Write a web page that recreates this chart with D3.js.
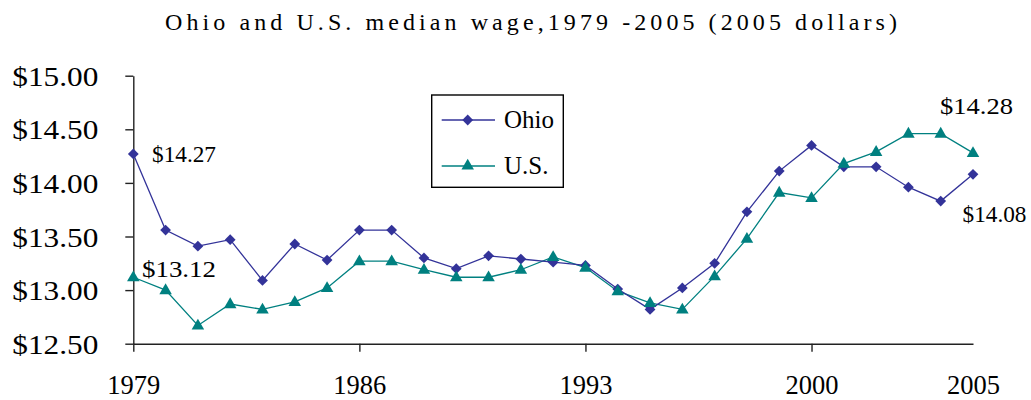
<!DOCTYPE html>
<html>
<head>
<meta charset="utf-8">
<script src="https://cdn.jsdelivr.net/npm/d3@7"></script>
<style>
  html, body { margin: 0; padding: 0; background: #fff; }
  svg { display: block; }
</style>
</head>
<body>
<svg id="chart" width="1031" height="400"></svg>
<script>
const years = [1979,1980,1981,1982,1983,1984,1985,1986,1987,1988,1989,1990,1991,1992,1993,1994,1995,1996,1997,1998,1999,2000,2001,2002,2003,2004,2005];
const ohio = [14.27,13.56,13.41,13.47,13.09,13.43,13.28,13.56,13.56,13.30,13.20,13.32,13.29,13.26,13.23,13.01,12.82,13.02,13.25,13.73,14.11,14.35,14.15,14.15,13.96,13.83,14.08];
const us   = [13.12,13.00,12.67,12.87,12.82,12.89,13.02,13.27,13.27,13.19,13.12,13.12,13.19,13.31,13.21,12.99,12.88,12.82,13.13,13.48,13.91,13.86,14.18,14.29,14.46,14.46,14.28];
const yTicks = [12.5,13.0,13.5,14.0,14.5,15.0];
const xTickLabels = [1979,1986,1993,2000,2005];
const seriesNames = ["Ohio","U.S."];
const titleText = "Ohio and U.S. median wage,1979 -2005 (2005 dollars)";

const FONT = 'Liberation Serif';
const colOhio = "#333399", colUS = "#008080";
const svg = d3.select("#chart");

const x = d3.scaleLinear().domain([1979, 2005]).range([133.3, 973]);
const y = d3.scaleLinear().domain([12.5, 15]).range([343.7, 75.7]);

// Title
svg.append("text")
  .attr("x", 165).attr("y", 29.5)
  .style("font-family", FONT).style("font-size", "24px")
  .attr("textLength", 732).attr("lengthAdjust", "spacing")
  .text(titleText);

// Y axis
const yAxis = svg.append("g")
  .attr("transform", `translate(${x(1979)},0)`)
  .call(d3.axisLeft(y).tickValues(yTicks).tickFormat(d3.format("$.2f")).tickSize(8).tickSizeOuter(0).tickPadding(27));
yAxis.attr("font-family", null).attr("font-size", null);
yAxis.selectAll("text")
  .style("font-family", FONT).style("font-size", "28px").attr("fill", "#000")
  .attr("textLength", 86).attr("lengthAdjust", "spacingAndGlyphs").attr("dy", "0.34em");
yAxis.selectAll("path, line").attr("stroke", "#222").attr("stroke-width", 1.4);

// X axis
const xAxis = svg.append("g")
  .attr("transform", `translate(0,${y(12.5)})`)
  .call(d3.axisBottom(x).tickValues(xTickLabels).tickFormat(d3.format("d")).tickSize(8).tickSizeOuter(0));
xAxis.attr("font-family", null).attr("font-size", null);
xAxis.selectAll("text")
  .style("font-family", FONT).style("font-size", "26.5px").attr("fill", "#000")
  .attr("y", 394 - y(12.5)).attr("dy", 0);
xAxis.selectAll("path, line").attr("stroke", "#222").attr("stroke-width", 1.4);
xAxis.selectAll(".tick").filter(d => d === 2005).select("line").remove();

// Lines
const line = d3.line().x((d, i) => x(years[i])).y(d => y(d));
svg.append("path").datum(us).attr("d", line).attr("fill", "none").attr("stroke", colUS).attr("stroke-width", 1.3);
svg.append("path").datum(ohio).attr("d", line).attr("fill", "none").attr("stroke", colOhio).attr("stroke-width", 1.3);

const diamond = d3.symbol().type(d3.symbolSquare).size(58)();
const tri = d3.symbol().type(d3.symbolTriangle).size(68)();

svg.append("g").selectAll("path").data(ohio).join("path")
  .attr("d", diamond)
  .attr("transform", (d, i) => `translate(${x(years[i])},${y(d)}) rotate(45)`)
  .attr("fill", colOhio);
svg.append("g").selectAll("path").data(us).join("path")
  .attr("d", tri)
  .attr("transform", (d, i) => `translate(${x(years[i])},${y(d) + 0.5})`)
  .attr("fill", colUS);

// Data labels
const fmt = d3.format("$.2f");
const labels = [
  {v: ohio[0], tx: 152, ty: 161.7, w: 64},
  {v: us[0], tx: 142, ty: 277.3, w: 74},
  {v: us[us.length - 1], tx: 940, ty: 114.3, w: 73},
  {v: ohio[ohio.length - 1], tx: 962.5, ty: 221.7, w: 64}
];
svg.append("g").selectAll("text").data(labels).join("text")
  .attr("x", d => d.tx).attr("y", d => d.ty)
  .style("font-family", FONT).style("font-size", "24px")
  .attr("textLength", d => d.w).attr("lengthAdjust", "spacingAndGlyphs")
  .text(d => fmt(d.v));

// Legend
const lg = svg.append("g");
lg.append("rect").attr("x", 431.7).attr("y", 95).attr("width", 131.6).attr("height", 92.3)
  .attr("fill", "#fff").attr("stroke", "#000").attr("stroke-width", 1.4);
const items = [{name: seriesNames[0], col: colOhio, sym: diamond, rot: 45, ly: 120, ty: 127.7},
               {name: seriesNames[1], col: colUS, sym: tri, rot: 0, ly: 166, ty: 174}];
items.forEach(it => {
  lg.append("line").attr("x1", 441.7).attr("x2", 495).attr("y1", it.ly).attr("y2", it.ly)
    .attr("stroke", it.col).attr("stroke-width", 1.3);
  lg.append("path").attr("d", it.sym).attr("transform", `translate(467.7,${it.ly}) rotate(${it.rot})`).attr("fill", it.col);
  lg.append("text").attr("x", 504).attr("y", it.ty)
    .style("font-family", FONT).style("font-size", "25px").text(it.name);
});
</script>
</body>
</html>
